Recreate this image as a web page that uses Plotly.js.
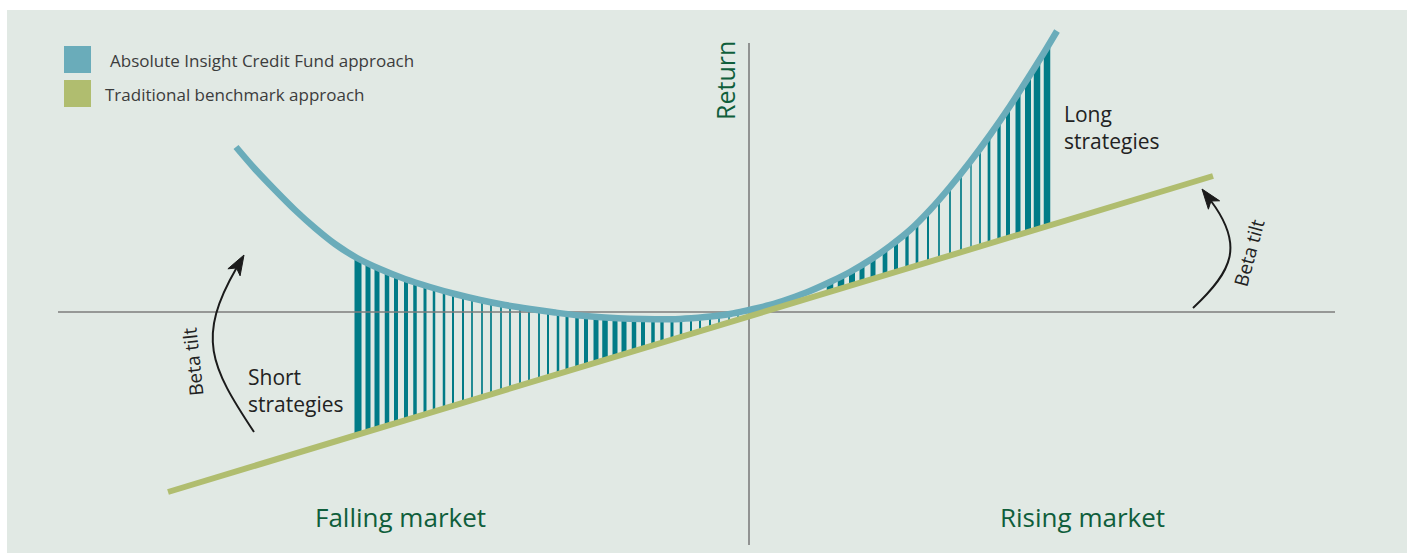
<!DOCTYPE html>
<html>
<head>
<meta charset="utf-8">
<script src="https://cdn.plot.ly/plotly-3.0.1.min.js"></script>
<style>
  html, body { margin: 0; padding: 0; background: #ffffff; }
  #chart { width: 1407px; height: 553px; }
</style>
</head>
<body>
<div id="chart"></div>
<script>
// ---------- Data (conceptual units: market move on x, return on y) ----------
const seriesNames = ["Absolute Insight Credit Fund approach", "Traditional benchmark approach"];

// Absolute Insight Credit Fund approach (curved payoff)
const blueX = [-513,-494,-474,-454,-434,-414,-392,-369,-344,-319,-294,-269,-244,-219,-194,-169,-144,-119,-94,-69,-44,-19,0,21,41,61,81,101,121,141,161,181,201,221,241,261,281,296,308];
const blueY = [165,143,122,102,84,68,54,43,33,25,18,12,7,3,-0.5,-3.5,-5.5,-6.8,-7.3,-6.9,-5,-2,2,7,13.5,21,30,40,52,66,82,102,125,150,177,206,237,261,281];

// Traditional benchmark approach (straight line)
const greenX = [-581, 464];
const greenY = [-180, 136];

// Short strategies hatching (between the two payoffs, falling market)
const shortX    = [-391,-381,-372,-362,-353,-343,-334,-324,-315,-305,-296,-286,-277,-267,-258,-248,-239,-229,-220,-210,-201,-191,-182,-172,-163,-153,-144,-134,-125,-115,-106,-96,-87,-77,-68,-58,-49,-39,-30,-20,-11];
const shortTop  = [53.5,48.5,44,40,36.5,33,29.7,26.7,24,21.5,18.6,16.2,14,11.7,9.7,7.8,6.2,4.7,3.2,1.7,0.2,-1.3,-2.5,-3.6,-4.5,-5.3,-6,-6.4,-6.8,-7.1,-7.3,-7.5,-7.5,-7.3,-7,-6.3,-5.5,-4.5,-3.3,-2.1,0];
const shortBase = [-122.5,-119.5,-116.8,-113.8,-111.0,-108.0,-105.3,-102.3,-99.6,-96.5,-93.8,-90.8,-88.1,-85.0,-82.3,-79.3,-76.6,-73.6,-70.8,-67.8,-65.1,-62.1,-59.3,-56.3,-53.6,-50.6,-47.8,-44.8,-42.1,-39.1,-36.4,-33.3,-30.6,-27.6,-24.9,-21.8,-19.1,-16.1,-13.4,-10.3,-7.6];

// Long strategies hatching (rising market)
const longX    = [81,92,103,113,124,136,147,158,168,179,190,201,212,222,231,240,250,259,269,279,288,298];
const longTop  = [30,35.5,41,47,54,62.5,70.5,79,88.5,100,112.5,125,138.5,151.5,163,175.5,190,203,218,234,248,264];
const longBase = [20.2,23.5,26.8,29.9,33.2,36.8,40.1,43.5,46.5,49.8,53.2,56.5,59.8,62.8,65.6,68.3,71.3,74.0,77.0,80.1,82.8,85.8];

// Axes of the diagram
const hAxisX = [-691, 586], hAxisY = [0, 0];
const vAxisX = [0, 0],      vAxisY = [-233, 269];

// Labels
const axisLabelY = "Return";
const marketLabels = ["Falling market", "Rising market"];
const strategyLabels = ["Short<br>strategies", "Long<br>strategies"];
const tiltLabel = "Beta tilt";

// ---------- Styles ----------
const shortWidths = [7,5,5,4.5,4,4,3.5,3,2.5,2.5,2,2,1.7,1.7,1.7,1.7,1.7,1.8,1.8,1.8,2,2.5,3,3.5,4,5,5.5,5,5,4.5,4,3.5,3.3,3,2.5,2,2,2,1.5,1.3,1.3];
const longWidths  = [6.5,6.5,6,5,5,4.7,4,3.3,2.7,2,1.7,1.7,1.7,1.3,1.7,2.7,3.3,4,5,6,6.5,6.5];

const C = {
  bg: "#e1e9e4", blue: "#6aacba", green: "#b0bd6f", teal: "#017b87",
  axis: "#7d7d7d", darkGreen: "#0f5e3b", text: "#222222", legendText: "#3c3c3c"
};
const FONT = "Open Sans, Noto Sans, sans-serif";

const diff = (a, b) => a.map((v, i) => v - b[i]);

const traces = [
  { type: "bar", x: shortX, y: diff(shortTop, shortBase), base: shortBase, width: shortWidths,
    marker: { color: C.teal, line: { width: 0 } }, showlegend: false, hoverinfo: "skip" },
  { type: "bar", x: longX, y: diff(longTop, longBase), base: longBase, width: longWidths,
    marker: { color: C.teal, line: { width: 0 } }, showlegend: false, hoverinfo: "skip" },
  { type: "scatter", mode: "lines", x: hAxisX, y: hAxisY, line: { color: C.axis, width: 1.6 }, showlegend: false, hoverinfo: "skip" },
  { type: "scatter", mode: "lines", x: vAxisX, y: vAxisY, line: { color: C.axis, width: 1.6 }, showlegend: false, hoverinfo: "skip" },
  { type: "scatter", mode: "lines", name: seriesNames[0], x: blueX, y: blueY,
    line: { color: C.blue, width: 6.5, shape: "spline", smoothing: 1 }, showlegend: false },
  { type: "scatter", mode: "lines", name: seriesNames[1], x: greenX, y: greenY,
    line: { color: C.green, width: 6 }, showlegend: false }
];

// Curved "Beta tilt" arrows (decorations)
const arrowL = { curve: "M -495,-120 C -539,-53.6 -552.5,-25.3 -512.5,44",
                 head: "M -505,57 L -508.9,36.2 L -512.5,44 L -521.1,43.2 Z" };
const arrowR = { curve: "M 444,4 C 484.2,41.4 495,67 462,111",
                 head: "M 453,123 L 470.6,111.2 L 462,111 L 459.4,102.8 Z" };

const shapes = [
  { type: "path", xref: "x", yref: "y", path: arrowL.curve, line: { color: "#1b1b1b", width: 2 } },
  { type: "path", xref: "x", yref: "y", path: arrowL.head, fillcolor: "#1b1b1b", line: { color: "#1b1b1b", width: 1 } },
  { type: "path", xref: "x", yref: "y", path: arrowR.curve, line: { color: "#1b1b1b", width: 2 } },
  { type: "path", xref: "x", yref: "y", path: arrowR.head, fillcolor: "#1b1b1b", line: { color: "#1b1b1b", width: 1 } },
  // legend swatches
  { type: "rect", xref: "x", yref: "y", x0: -685, x1: -658, y0: 239, y1: 266, fillcolor: C.blue, line: { width: 0 } },
  { type: "rect", xref: "x", yref: "y", x0: -685, x1: -658, y0: 205, y1: 232, fillcolor: C.green, line: { width: 0 } }
];

const ann = (o) => Object.assign({ xref: "x", yref: "y", showarrow: false }, o);
const annotations = [
  ann({ x: -641, y: 252, text: seriesNames[0], xanchor: "left", yanchor: "middle", font: { family: FONT, size: 17, color: C.legendText } }),
  ann({ x: -646, y: 218, text: seriesNames[1], xanchor: "left", yanchor: "middle", font: { family: FONT, size: 17, color: C.legendText } }),
  ann({ x: -24, y: 231, text: axisLabelY, textangle: -90, xanchor: "center", yanchor: "middle", font: { family: FONT, size: 25, color: C.darkGreen } }),
  ann({ x: -349, y: -205, text: marketLabels[0], xanchor: "center", yanchor: "middle", font: { family: FONT, size: 26, color: C.darkGreen } }),
  ann({ x: 333, y: -205, text: marketLabels[1], xanchor: "center", yanchor: "middle", font: { family: FONT, size: 26, color: C.darkGreen } }),
  ann({ x: -503, y: -78, text: strategyLabels[0], xanchor: "left", yanchor: "middle", align: "left", font: { family: FONT, size: 21, color: C.text } }),
  ann({ x: 313, y: 185, text: strategyLabels[1], xanchor: "left", yanchor: "middle", align: "left", font: { family: FONT, size: 21, color: C.text } }),
  ann({ x: -556, y: -50, text: tiltLabel, textangle: -96, xanchor: "center", yanchor: "middle", font: { family: FONT, size: 19, color: C.text } }),
  ann({ x: 500, y: 59, text: tiltLabel, textangle: -75, xanchor: "center", yanchor: "middle", font: { family: FONT, size: 19, color: C.text } })
];

const layout = {
  width: 1407, height: 553,
  margin: { l: 7, r: 0, t: 10, b: 0, pad: 0 },
  paper_bgcolor: "#ffffff", plot_bgcolor: C.bg,
  barmode: "overlay",
  showlegend: false,
  xaxis: { range: [-742, 658], visible: false, fixedrange: true },
  yaxis: { range: [-241, 302], visible: false, fixedrange: true },
  shapes: shapes,
  annotations: annotations,
  font: { family: FONT }
};

Plotly.newPlot("chart", traces, layout, { staticPlot: true, displayModeBar: false });
</script>
</body>
</html>
